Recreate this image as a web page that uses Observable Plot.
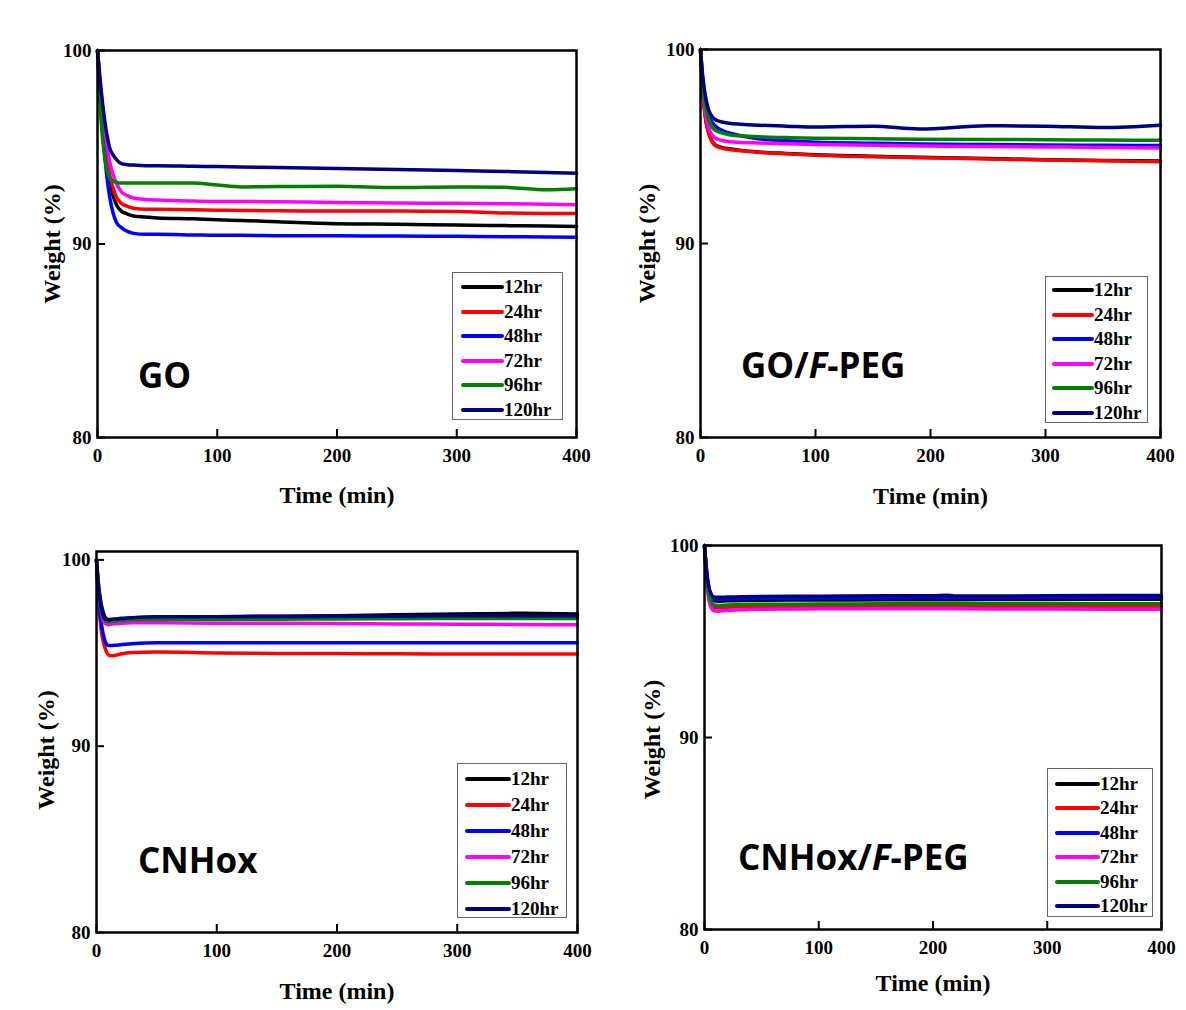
<!DOCTYPE html>
<html><head><meta charset="utf-8">
<script src="https://cdn.jsdelivr.net/npm/d3@7"></script>
<script src="https://cdn.jsdelivr.net/npm/@observablehq/plot@0.6"></script>
<style>
body{margin:0;background:#fff;}
#root{position:relative;width:1186px;height:1010px;overflow:hidden;background:#fff;}
.panel{position:absolute;}
.title{position:absolute;font-family:"Open Sans","Noto Sans",sans-serif;font-weight:700;font-size:35px;line-height:35px;white-space:nowrap;color:#000;}
.legend{position:absolute;border:1.5px solid #666;background:#fff;font-family:"Liberation Serif","Times New Roman",serif;font-weight:bold;font-size:19px;box-sizing:border-box;}
.legend .row{position:absolute;display:flex;align-items:center;height:20px;white-space:nowrap;}
.legend .sw{height:4px;border-radius:2px;}
</style></head>
<body><div id="root"></div>
<script>
const series = ["12hr","24hr","48hr","72hr","96hr","120hr"];
const colors = ["#000000","#ff0000","#0000ff","#ff00ff","#008000","#000080"];
const xTicks = [0,100,200,300,400];
const yTicks = [80,90,100];

// ---- GO ----
const goTime = [0,2,4,6,8,10,13,16,20,25,30,40,50,80,100,120,150,200,250,300,340,375,400];
const go12  = [100,98.2,96.6,95.3,94.2,93.3,92.5,92.0,91.7,91.55,91.45,91.4,91.35,91.3,91.25,91.22,91.15,91.05,91.02,90.98,90.95,90.93,90.9];
const go24  = [100,98.3,96.8,95.5,94.4,93.6,92.9,92.4,92.1,91.95,91.85,91.8,91.8,91.77,91.75,91.73,91.72,91.7,91.7,91.68,91.6,91.58,91.58];
const go48  = [100,97.9,96.0,94.6,93.4,92.5,91.6,91.1,90.85,90.65,90.55,90.5,90.5,90.47,90.45,90.45,90.43,90.42,90.41,90.4,90.38,90.36,90.35];
const go72  = [100,98.5,97.1,95.9,95.0,94.3,93.6,93.1,92.7,92.5,92.38,92.3,92.27,92.22,92.2,92.2,92.18,92.15,92.12,92.1,92.08,92.05,92.03];
const go96  = [100,97.4,95.6,94.5,93.8,93.45,93.25,93.18,93.15,93.15,93.15,93.15,93.15,93.15,93.05,92.95,92.97,92.98,92.92,92.95,92.93,92.8,92.86];
const go120 = [100,98.6,97.4,96.4,95.6,95.0,94.6,94.35,94.15,94.1,94.08,94.05,94.05,94.02,94.0,93.98,93.95,93.9,93.85,93.8,93.75,93.7,93.65];

// ---- GO/F-PEG ----
const gpTime = [0,2,4,7,10,14,20,25,35,50,75,100,150,190,250,300,350,400];
const gp12  = [100,97.8,96.6,95.72,95.28,95.04,94.93,94.88,94.8,94.72,94.64,94.57,94.5,94.44,94.38,94.32,94.28,94.25];
const gp24  = [100,97.8,96.6,95.7,95.25,95.0,94.9,94.85,94.78,94.7,94.62,94.55,94.47,94.42,94.36,94.3,94.26,94.22];
const gp48  = [100,98.4,97.4,96.6,96.25,96.0,95.8,95.7,95.55,95.4,95.3,95.22,95.17,95.13,95.1,95.08,95.06,95.05];
const gp72  = [100,98.0,96.9,96.0,95.6,95.4,95.3,95.25,95.21,95.18,95.14,95.1,95.06,95.03,95.0,94.98,94.95,94.92];
const gp96  = [100,98.2,97.2,96.4,96.0,95.8,95.68,95.6,95.55,95.5,95.46,95.43,95.4,95.38,95.36,95.35,95.33,95.32];
const gp120 = [100,98.6,97.7,96.9,96.55,96.35,96.25,96.2,96.15,96.1,96.05,96.0,96.05,95.9,96.07,96.05,95.98,96.1];

// ---- CNHox ----
const cnTime = [0,2,4,6,8,10,12,16,20,30,50,100,150,200,250,300,350,400];
const cn12  = [100,98.5,97.6,97.1,96.85,96.8,96.8,96.82,96.85,96.88,96.92,96.95,96.98,97.0,97.05,97.1,97.13,97.1];
const cn24  = [100,97.5,96.2,95.5,95.1,94.9,94.85,94.88,94.95,95.03,95.05,95.0,94.98,94.97,94.96,94.95,94.95,94.95];
const cn48  = [100,97.8,96.6,95.9,95.5,95.4,95.4,95.42,95.45,95.5,95.55,95.55,95.55,95.55,95.55,95.55,95.55,95.55];
const cn72  = [100,98.1,97.2,96.7,96.55,96.52,96.55,96.58,96.6,96.62,96.62,96.6,96.6,96.58,96.56,96.55,96.53,96.52];
const cn96  = [100,98.2,97.3,96.85,96.7,96.68,96.7,96.72,96.75,96.78,96.8,96.8,96.82,96.83,96.84,96.85,96.85,96.85];
const cn120 = [100,98.3,97.4,96.95,96.8,96.78,96.8,96.82,96.85,96.9,96.95,96.95,96.96,96.97,96.98,97.0,97.0,97.0];

// ---- CNHox/F-PEG ----
const cpTime = [0,2,4,6,8,12,20,50,100,160,200,212,216,220,300,400];
const cp12  = [100,98.5,97.6,97.25,97.12,97.1,97.12,97.15,97.16,97.17,97.18,97.18,97.18,97.18,97.19,97.2];
const cp24  = [100,98.2,97.3,96.9,96.78,96.76,96.78,96.82,96.82,96.83,96.83,96.83,96.83,96.83,96.83,96.82];
const cp48  = [100,98.5,97.7,97.35,97.2,97.2,97.22,97.25,97.26,97.27,97.28,97.28,97.28,97.28,97.29,97.3];
const cp72  = [100,98.1,97.1,96.75,96.6,96.58,96.62,96.68,96.7,96.7,96.7,96.7,96.7,96.7,96.69,96.68];
const cp96  = [100,98.3,97.4,97.05,96.9,96.88,96.9,96.94,96.95,96.96,96.97,96.97,96.97,96.97,96.97,96.97];
const cp120 = [100,98.6,97.8,97.45,97.32,97.3,97.32,97.35,97.36,97.38,97.38,97.41,97.39,97.37,97.38,97.4];

const panels = [
  {title:'GO', time:goTime, values:[go12,go24,go48,go72,go96,go120], yDomain:[80,100],
   left:0, top:0, width:600, height:510, ml:97, mr:24, mt:50, mb:73, xlab:65, ylab:45, ylabDy:0,
   tl:138, tb:388,
   leg:{left:452, top:272, w:111, h:148, first:14, step:24.6, lx:8, len:43}},
  {title:'GO/<i>F</i>-PEG', time:gpTime, values:[gp12,gp24,gp48,gp72,gp96,gp120], yDomain:[80,100],
   left:600, top:0, width:586, height:510, ml:100, mr:26, mt:49, mb:73, xlab:66, ylab:53, ylabDy:0,
   tl:741, tb:378,
   leg:{left:1045, top:276, w:103, h:147, first:13, step:24.6, lx:6, len:42}},
  {title:'CNHox', time:cnTime, values:[cn12,cn24,cn48,cn72,cn96,cn120], yDomain:[80,100.45],
   left:0, top:510, width:600, height:500, ml:96, mr:23, mt:41, mb:78, xlab:66, ylab:50, ylabDy:8,
   tl:138, tb:873,
   leg:{left:457, top:763, w:110, h:155, first:15, step:26, lx:7, len:46}},
  {title:'CNHox/<i>F</i>-PEG', time:cpTime, values:[cp12,cp24,cp48,cp72,cp96,cp120], yDomain:[80,100],
   left:600, top:510, width:586, height:500, ml:104, mr:25, mt:35, mb:81, xlab:61, ylab:52, ylabDy:2,
   tl:738, tb:870,
   leg:{left:1047, top:768, w:106, h:149, first:15, step:24.4, lx:7, len:45}}
];

const root = document.getElementById('root');
const serif = '"Liberation Serif","Times New Roman",serif';

for (const p of panels) {
  const data = [];
  p.values.forEach((vals, si) => vals.forEach((w, i) => data.push({t: p.time[i], w, s: series[si]})));
  const chart = Plot.plot({
    width: p.width, height: p.height,
    marginLeft: p.ml, marginRight: p.mr, marginTop: p.mt, marginBottom: p.mb,
    style: {background: 'transparent', overflow: 'visible', fontFamily: serif, color: '#000'},
    x: {domain: [0, 400]},
    y: {domain: p.yDomain},
    color: {domain: series, range: colors},
    marks: [
      Plot.line(data, {x: 't', y: 'w', z: 's', stroke: 's', strokeWidth: 3.5, curve: 'monotone-x'}),
      Plot.axisX({ticks: xTicks, tickSize: -8, text: null, strokeWidth: 2, label: null}),
      Plot.axisX({ticks: xTicks, tickSize: 0, tickPadding: 11, label: null, fontSize: 19, fontWeight: 'bold', fontFamily: serif}),
      Plot.axisY({ticks: yTicks, tickSize: -8, text: null, strokeWidth: 2, label: null}),
      Plot.axisY({ticks: yTicks, tickSize: 0, tickPadding: 6, label: null, fontSize: 19, fontWeight: 'bold', fontFamily: serif}),
      Plot.frame({strokeWidth: 2.5}),
      Plot.text(['Time (min)'], {text: d => d, frameAnchor: 'bottom', dy: p.xlab, fontSize: 24, fontWeight: 'bold', fontFamily: serif}),
      Plot.text(['Weight (%)'], {text: d => d, frameAnchor: 'left', textAnchor: 'middle', dx: -p.ylab, dy: p.ylabDy, rotate: -90, fontSize: 24, fontWeight: 'bold', fontFamily: serif})
    ]
  });
  const div = document.createElement('div');
  div.className = 'panel';
  div.style.left = p.left + 'px';
  div.style.top = p.top + 'px';
  div.appendChild(chart);
  root.appendChild(div);

  const t = document.createElement('div');
  t.className = 'title';
  t.innerHTML = p.title;
  t.style.left = p.tl + 'px';
  t.style.top = (p.tb - 31) + 'px';
  root.appendChild(t);

  const L = p.leg;
  const lg = document.createElement('div');
  lg.className = 'legend';
  lg.style.left = L.left + 'px';
  lg.style.top = L.top + 'px';
  lg.style.width = L.w + 'px';
  lg.style.height = L.h + 'px';
  series.forEach((s, i) => {
    const row = document.createElement('div');
    row.className = 'row';
    row.style.left = L.lx + 'px';
    row.style.top = (L.first + i * L.step - 10) + 'px';
    const sw = document.createElement('span');
    sw.className = 'sw';
    sw.style.width = L.len + 'px';
    sw.style.background = colors[i];
    const tx = document.createElement('span');
    tx.textContent = s;
    row.appendChild(sw);
    row.appendChild(tx);
    lg.appendChild(row);
  });
  root.appendChild(lg);
}
</script>
</body></html>
